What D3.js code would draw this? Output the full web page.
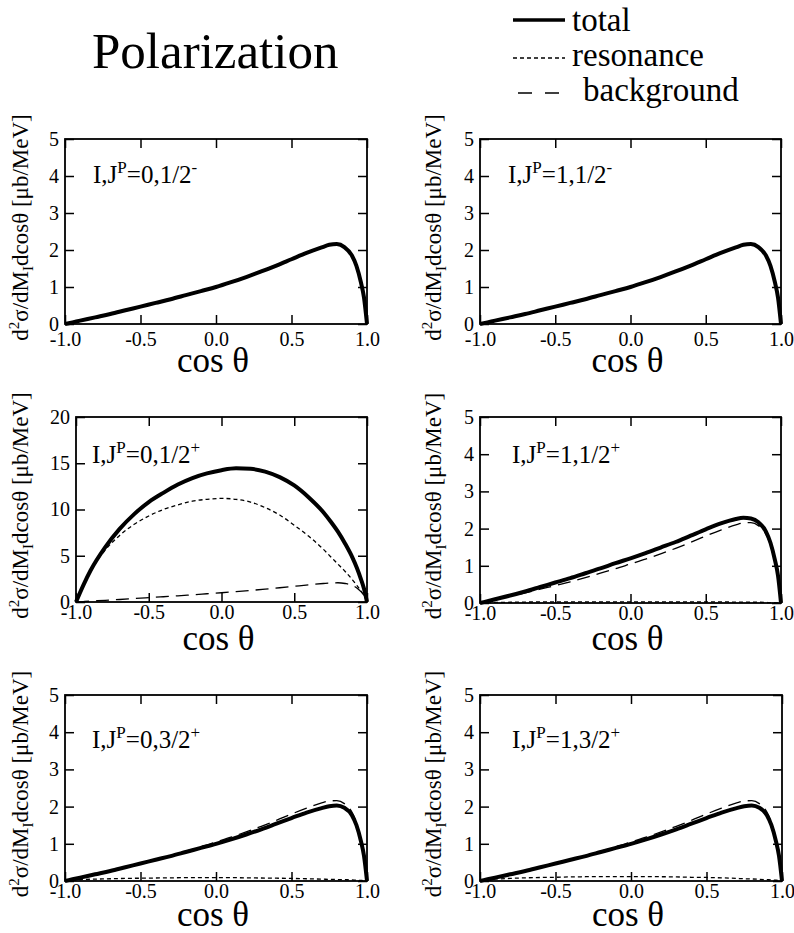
<!DOCTYPE html>
<html>
<head>
<meta charset="utf-8">
<script src="https://cdn.jsdelivr.net/npm/d3@7"></script>
<style>
  body { margin: 0; background: #fff; }
  svg { display: block; font-family: "Liberation Serif", "Times New Roman", serif; }
</style>
</head>
<body>
<svg id="chart" width="794" height="933"></svg>
<script>
// cos(theta) sample points shared by every curve
const cosTheta = [-1.0, -0.95, -0.9, -0.8, -0.7, -0.6, -0.5, -0.4, -0.3, -0.2, -0.1, 0.0, 0.1, 0.2,
                  0.3, 0.4, 0.5, 0.6, 0.7, 0.75, 0.8, 0.85, 0.9, 0.93, 0.96, 0.98, 1.0];

// I,J^P = 0,1/2-
const total01m = [0, 0.045, 0.09, 0.18, 0.27, 0.37, 0.47, 0.57, 0.67, 0.78, 0.89, 1.0, 1.13, 1.27,
                  1.42, 1.58, 1.75, 1.92, 2.07, 2.14, 2.16, 2.08, 1.85, 1.57, 1.12, 0.72, 0];
// I,J^P = 1,1/2-
const total11m = [0, 0.045, 0.09, 0.18, 0.27, 0.37, 0.47, 0.57, 0.67, 0.78, 0.89, 1.0, 1.13, 1.27,
                  1.42, 1.58, 1.75, 1.92, 2.07, 2.14, 2.16, 2.08, 1.85, 1.57, 1.12, 0.72, 0];
// I,J^P = 0,1/2+
const total01p = [0, 1.8, 3.4, 5.9, 7.9, 9.5, 10.8, 11.8, 12.7, 13.4, 13.9, 14.25, 14.45, 14.4,
                  14.1, 13.5, 12.6, 11.3, 9.7, 8.7, 7.6, 6.3, 4.8, 3.7, 2.4, 1.4, 0];
const reson01p = [0, 1.8, 3.4, 5.6, 7.2, 8.4, 9.3, 10.0, 10.5, 10.9, 11.1, 11.2, 11.1, 10.8,
                  10.2, 9.4, 8.3, 7.1, 5.7, 4.9, 4.1, 3.3, 2.4, 1.8, 1.15, 0.65, 0];
const backg01p = [0, 0.045, 0.09, 0.18, 0.27, 0.37, 0.47, 0.57, 0.67, 0.78, 0.89, 1.0, 1.12, 1.25,
                  1.39, 1.54, 1.7, 1.86, 2.0, 2.06, 2.08, 2.0, 1.8, 1.52, 1.1, 0.7, 0];
// I,J^P = 1,1/2+
const total11p = [0, 0.05, 0.1, 0.2, 0.31, 0.43, 0.55, 0.67, 0.8, 0.93, 1.07, 1.2, 1.34, 1.49,
                  1.64, 1.81, 1.98, 2.14, 2.26, 2.29, 2.27, 2.17, 1.92, 1.62, 1.15, 0.74, 0];
const reson11p = [0, 0.01, 0.015, 0.02, 0.025, 0.03, 0.03, 0.03, 0.03, 0.03, 0.03, 0.03, 0.03, 0.03,
                  0.03, 0.03, 0.03, 0.03, 0.025, 0.025, 0.02, 0.02, 0.015, 0.01, 0.01, 0.005, 0];
const backg11p = [0, 0.045, 0.09, 0.18, 0.27, 0.37, 0.47, 0.57, 0.68, 0.8, 0.92, 1.05, 1.18, 1.32,
                  1.47, 1.63, 1.8, 1.96, 2.1, 2.15, 2.16, 2.08, 1.85, 1.57, 1.12, 0.72, 0];
// I,J^P = 0,3/2+
const total03p = [0, 0.045, 0.09, 0.18, 0.27, 0.37, 0.47, 0.57, 0.67, 0.78, 0.89, 1.0, 1.12, 1.25,
                  1.39, 1.54, 1.69, 1.84, 1.96, 2.01, 2.03, 1.97, 1.77, 1.5, 1.07, 0.68, 0];
const reson03p = [0, 0.02, 0.04, 0.05, 0.06, 0.07, 0.075, 0.08, 0.085, 0.09, 0.09, 0.09, 0.09, 0.085,
                  0.08, 0.075, 0.07, 0.06, 0.05, 0.045, 0.04, 0.035, 0.03, 0.02, 0.015, 0.01, 0];
const backg03p = [0, 0.045, 0.09, 0.18, 0.27, 0.37, 0.47, 0.57, 0.68, 0.8, 0.92, 1.05, 1.18, 1.32,
                  1.47, 1.63, 1.8, 1.96, 2.1, 2.15, 2.16, 2.08, 1.85, 1.57, 1.12, 0.72, 0];
// I,J^P = 1,3/2+
const total13p = [0, 0.045, 0.09, 0.18, 0.27, 0.37, 0.47, 0.57, 0.67, 0.78, 0.89, 1.0, 1.12, 1.25,
                  1.39, 1.54, 1.69, 1.84, 1.96, 2.01, 2.03, 1.97, 1.77, 1.5, 1.07, 0.68, 0];
const reson13p = [0, 0.03, 0.05, 0.07, 0.085, 0.095, 0.1, 0.11, 0.115, 0.12, 0.12, 0.12, 0.12, 0.115,
                  0.11, 0.1, 0.095, 0.085, 0.07, 0.06, 0.055, 0.045, 0.035, 0.03, 0.02, 0.01, 0];
const backg13p = [0, 0.045, 0.09, 0.18, 0.27, 0.37, 0.47, 0.57, 0.68, 0.8, 0.92, 1.05, 1.18, 1.32,
                  1.47, 1.63, 1.8, 1.96, 2.1, 2.15, 2.16, 2.08, 1.85, 1.57, 1.12, 0.72, 0];

const xTicks = [-1.0, -0.5, 0.0, 0.5, 1.0];
const yTicksSmall = [0, 1, 2, 3, 4, 5];
const yTicksLarge = [0, 5, 10, 15, 20];
const panelLabels = [['0', '1/2', '-'], ['1', '1/2', '-'], ['0', '1/2', '+'],
                     ['1', '1/2', '+'], ['0', '3/2', '+'], ['1', '3/2', '+']];
const legendNames = ['total', 'resonance', 'background'];

// line styles, one per series kind
const styles = {
  total:      {width: 4,   dash: null},
  resonance:  {width: 1.3, dash: '4,3'},
  background: {width: 1.3, dash: '13,7'}
};

// panel frames (pixels) and text offsets
const layout = [
  {x0: 65,  x1: 367, y0: 139, y1: 324, yMax: 5,  yTicks: yTicksSmall, pad: 8, labX: 93,  labY: 183, ylabX: 28, xlabDy: 48,
   series: {total: total01m}},
  {x0: 480, x1: 781, y0: 139, y1: 324, yMax: 5,  yTicks: yTicksSmall, pad: 8, labX: 508, labY: 183, ylabX: 441, xlabDy: 48,
   series: {total: total11m}},
  {x0: 76,  x1: 367, y0: 417, y1: 602, yMax: 20, yTicks: yTicksLarge, pad: 3, labX: 92,  labY: 463, ylabX: 28, xlabDy: 48,
   series: {background: backg01p, resonance: reson01p, total: total01p}},
  {x0: 480, x1: 781, y0: 417, y1: 603, yMax: 5,  yTicks: yTicksSmall, pad: 3, labX: 512, labY: 463, ylabX: 441, xlabDy: 47,
   series: {background: backg11p, resonance: reson11p, total: total11p}},
  {x0: 65,  x1: 367, y0: 695, y1: 881, yMax: 5,  yTicks: yTicksSmall, pad: 3, labX: 92,  labY: 748, ylabX: 28, xlabDy: 45,
   series: {background: backg03p, resonance: reson03p, total: total03p}},
  {x0: 480, x1: 782, y0: 695, y1: 881, yMax: 5,  yTicks: yTicksSmall, pad: 3, labX: 512, labY: 748, ylabX: 441, xlabDy: 45,
   series: {background: backg13p, resonance: reson13p, total: total13p}}
];

const svg = d3.select('#chart');

// title
svg.append('text')
  .attr('x', 92).attr('y', 68)
  .attr('font-size', 51)
  .text('Polarization');

// legend
const legendRows = [
  {y: 31,  ly: 20, lx0: 513, lx1: 565, tx: 572, dash: null,    w: 3.5},
  {y: 66,  ly: 58, lx0: 513, lx1: 565, tx: 572, dash: '4,3',   w: 1.3},
  {y: 101, ly: 93, lx0: 518, lx1: 560, tx: 583, dash: '14,13', w: 1.3}
];
legendNames.forEach((name, i) => {
  const r = legendRows[i];
  svg.append('line')
    .attr('x1', r.lx0).attr('x2', r.lx1)
    .attr('y1', r.ly).attr('y2', r.ly)
    .attr('stroke', '#000')
    .attr('stroke-width', r.w)
    .attr('stroke-dasharray', r.dash);
  svg.append('text')
    .attr('x', r.tx).attr('y', r.y)
    .attr('font-size', 33)
    .text(name);
});

const tickLen = 9;

layout.forEach((p, i) => {
  const x = d3.scaleLinear().domain([-1, 1]).range([p.x0, p.x1]);
  const y = d3.scaleLinear().domain([0, p.yMax]).range([p.y1, p.y0]);
  const g = svg.append('g');

  const line = d3.line()
    .x((d, k) => x(cosTheta[k]))
    .y(d => y(d))
    .curve(d3.curveMonotoneX);

  Object.entries(p.series).forEach(([kind, vals]) => {
    g.append('path')
      .datum(vals)
      .attr('d', line)
      .attr('fill', 'none')
      .attr('stroke', '#000')
      .attr('stroke-width', styles[kind].width)
      .attr('stroke-linejoin', 'round')
      .attr('stroke-dasharray', styles[kind].dash);
  });

  // axes with inward ticks on all four sides
  const fmtX = d => d.toFixed(1);
  const bottom = g.append('g').attr('transform', `translate(0,${p.y1})`)
    .call(d3.axisBottom(x).tickValues(xTicks).tickFormat(fmtX).tickSize(-tickLen).tickPadding(p.pad));
  const top = g.append('g').attr('transform', `translate(0,${p.y0})`)
    .call(d3.axisTop(x).tickValues(xTicks).tickFormat('').tickSize(-tickLen));
  const left = g.append('g').attr('transform', `translate(${p.x0},0)`)
    .call(d3.axisLeft(y).tickValues(p.yTicks).tickFormat(d3.format('d')).tickSize(-tickLen).tickPadding(6));
  const right = g.append('g').attr('transform', `translate(${p.x1},0)`)
    .call(d3.axisRight(y).tickValues(p.yTicks).tickFormat('').tickSize(-tickLen));
  [bottom, top, left, right].forEach(a => {
    a.select('.domain').remove();
    a.attr('font-family', null).attr('font-size', 20);
    a.selectAll('line').attr('stroke', '#000').attr('stroke-width', 1.5);
    a.selectAll('text').attr('fill', '#000');
  });

  g.append('rect')
    .attr('x', p.x0).attr('y', p.y0)
    .attr('width', p.x1 - p.x0).attr('height', p.y1 - p.y0)
    .attr('fill', 'none').attr('stroke', '#000').attr('stroke-width', 1.8);

  // panel label I,J^P = ...
  const lab = panelLabels[i];
  const t = g.append('text').attr('x', p.labX).attr('y', p.labY).attr('font-size', 25);
  t.append('tspan').text('I,J');
  t.append('tspan').attr('font-size', 17).attr('dy', -10).text('P');
  t.append('tspan').attr('dy', 10).text(`=${lab[0]},${lab[1]}`);
  t.append('tspan').attr('font-size', 17).attr('dy', -10).text(lab[2]);

  // x axis title
  g.append('text')
    .attr('x', (p.x0 + p.x1) / 2 - 3).attr('y', p.y1 + p.xlabDy)
    .attr('text-anchor', 'middle')
    .attr('font-size', 35)
    .text('cos θ');

  // y axis title, rotated
  const yl = g.append('text')
    .attr('transform', `translate(${p.ylabX},${(p.y0 + p.y1) / 2 - 4}) rotate(-90)`)
    .attr('text-anchor', 'middle')
    .attr('font-size', 23);
  yl.append('tspan').text('d');
  yl.append('tspan').attr('font-size', 15).attr('dy', -9).text('2');
  yl.append('tspan').attr('dy', 9).text('σ/dM');
  yl.append('tspan').attr('font-size', 15).attr('dy', 5).text('I');
  yl.append('tspan').attr('dy', -5).text('dcosθ [μb/MeV]');
});
</script>
</body>
</html>
